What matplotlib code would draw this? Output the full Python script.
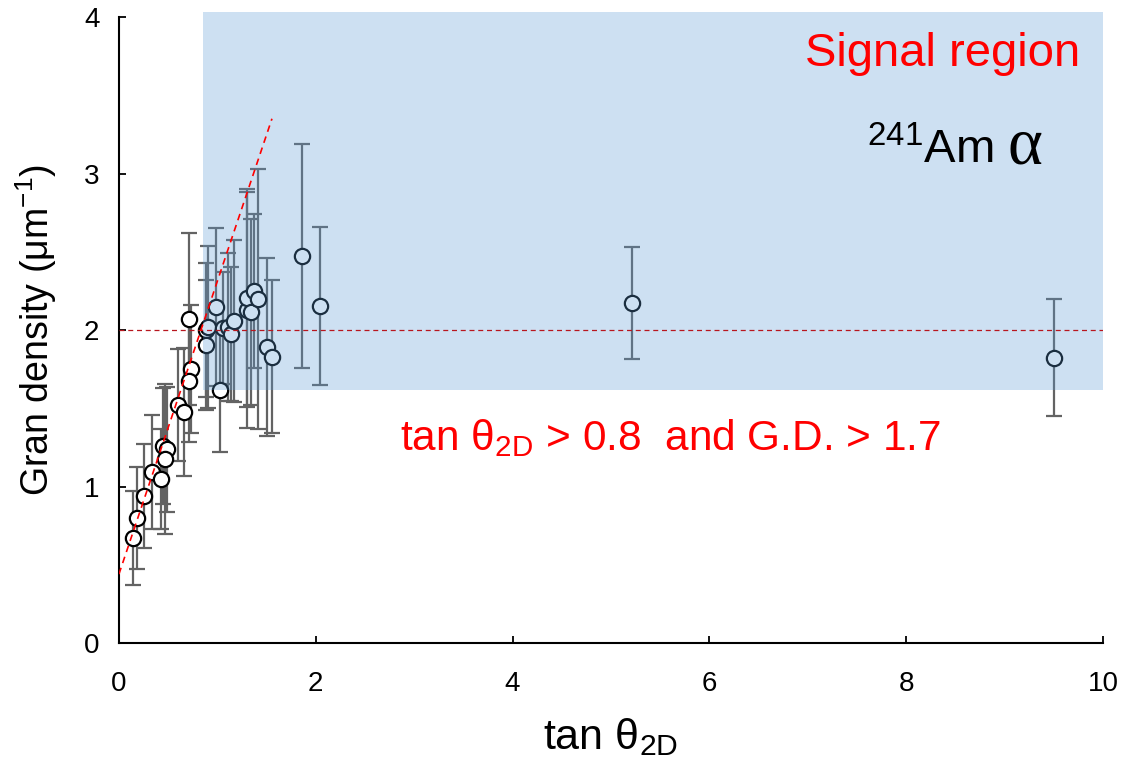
import matplotlib

matplotlib.use("Agg")
import matplotlib.pyplot as plt
from matplotlib.patches import Rectangle

plt.rcParams.update(
    {
        "font.family": ["Liberation Sans", "DejaVu Sans"],
        "mathtext.fontset": "custom",
        "mathtext.rm": "Liberation Sans",
        "mathtext.it": "Liberation Sans:italic",
        "mathtext.bf": "Liberation Sans:bold",
        "axes.linewidth": 1.5,
        "xtick.direction": "in",
        "ytick.direction": "in",
        "xtick.major.size": 5,
        "ytick.major.size": 5,
        "xtick.major.width": 1.3,
        "ytick.major.width": 1.3,
        "xtick.labelsize": 20,
        "ytick.labelsize": 20,
    }
)

# measured tracks: tan(theta_2D), grain density and its error (um^-1)
tan_theta = [
    0.146, 0.18, 0.254, 0.335, 0.423, 0.444, 0.485, 0.467, 0.603, 0.66,
    0.71, 0.735, 0.71,
    0.885, 0.908, 0.885, 0.982, 1.03, 1.053, 1.11, 1.135, 1.169,
    1.297, 1.297, 1.343, 1.372, 1.416, 1.50, 1.558,
    1.863, 2.046, 5.21, 9.50,
]
gran_density = [
    0.671, 0.80, 0.937, 1.091, 1.048, 1.257, 1.238, 1.176, 1.521, 1.474,
    2.072, 1.751, 1.676,
    2.00, 2.02, 1.904, 2.149, 1.617, 2.01, 2.02, 1.975, 2.058,
    2.128, 2.202, 2.117, 2.249, 2.196, 1.893, 1.83,
    2.473, 2.153, 2.171, 1.823,
]
gd_error = [
    0.30, 0.326, 0.333, 0.364, 0.32, 0.37, 0.40, 0.48, 0.358, 0.41,
    0.55, 0.41, 0.394,
    0.426, 0.52, 0.415, 0.505, 0.394, 0.358, 0.475, 0.426, 0.518,
    0.753, 0.696, 0.593, 0.49, 0.83, 0.57, 0.49,
    0.714, 0.507, 0.358, 0.374,
]

# linear trend of the low-angle tracks
fit_x = [0.0, 1.555]
fit_y = [0.44, 3.35]

# selection window: tan > 0.85, G.D. > 1.617
cut_tan = 0.85
cut_gd = 1.617
cut_top = 4.03
gd_reference = 2.0

fig = plt.figure(figsize=(11.22, 7.57), dpi=100)
ax = fig.add_axes([0.106, 0.1506, 0.877, 0.8269])

ax.errorbar(
    tan_theta, gran_density, yerr=gd_error, fmt="none",
    ecolor="#636363", elinewidth=1.6, capsize=5.5, capthick=1.6, zorder=2,
)
ax.plot(
    tan_theta, gran_density, "o", ms=11, mfc="white", mec="black",
    mew=1.6, zorder=2.5,
)

ax.add_patch(
    Rectangle(
        (cut_tan, cut_gd), 10 - cut_tan, cut_top - cut_gd,
        facecolor="#5b9bd5", alpha=0.3, edgecolor="none",
        clip_on=False, zorder=3,
    )
)

ax.axhline(gd_reference, color="#b8161e", lw=0.9, ls=(0, (4, 3)), zorder=4)
ax.plot(fit_x, fit_y, color="red", lw=1.2, ls=(0, (4, 3)), zorder=4)

ax.set_xlim(0, 10)
ax.set_ylim(0, 4)
ax.set_xticks(range(0, 11, 2))
ax.set_yticks(range(0, 5))
ax.tick_params(axis="x", pad=20)
ax.tick_params(axis="y", pad=14)
for side in ("top", "right"):
    ax.spines[side].set_visible(False)

ax.set_xlabel(r"tan $\mathrm{\theta}_{\mathrm{2D}}$", fontsize=31, labelpad=14)
ax.set_ylabel(r"Gran density ($\mathrm{\mu}$m$^{\mathrm{-1}}$)", fontsize=27, labelpad=18)

ax.text(9.77, 3.69, "Signal region", color="red", fontsize=34,
        ha="right", va="baseline", zorder=5)
ax.text(7.6, 3.067, r"$^{241}$Am", color="black", fontsize=34,
        ha="left", va="baseline", zorder=5)
ax.text(9.03, 3.067, "α", color="black", fontsize=48,
        family="Liberation Serif", ha="left", va="baseline", zorder=5)
ax.text(2.856, 1.233, r"tan $\mathrm{\theta}_{\mathrm{2D}}$ > 0.8  and G.D. > 1.7",
        color="red", fontsize=30.5, ha="left", va="baseline", zorder=5)

fig.savefig("out.png", dpi=100)
